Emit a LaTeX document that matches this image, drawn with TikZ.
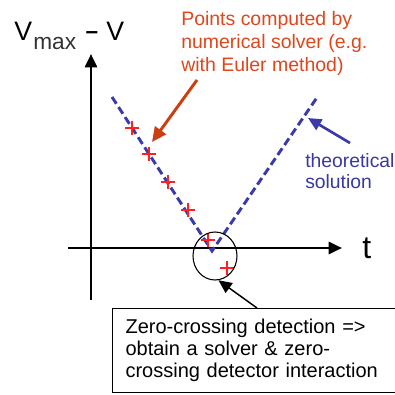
\documentclass[tikz,border=0pt]{standalone}
\usepackage{fontspec}
\usepackage{graphicx}
\setmainfont{Liberation Sans}
\usetikzlibrary{arrows.meta,shapes.geometric}
\definecolor{redtxt}{HTML}{E0461C}
\definecolor{redarr}{HTML}{CC3D10}
\definecolor{crossred}{HTML}{FF2020}
\definecolor{bluedash}{HTML}{3A3AAA}
\definecolor{bluetxt}{HTML}{3838A0}
\begin{document}
\begin{tikzpicture}[x=0.75pt,y=-0.75pt,
  axis/.style={line width=2pt,-{Triangle[length=10pt,width=9pt]}},
  theory/.style={bluedash,line width=2.2pt,dash pattern=on 6pt off 3pt},
  redarrow/.style={redarr,line width=2.2pt,-{Triangle[length=11pt,width=10pt]}},
  bluearrow/.style={bluedash,line width=2pt,-{Triangle[length=10pt,width=9pt]}},
  blackarrow/.style={black,line width=1.1pt,-{Triangle[length=10pt,width=9pt]}},
  lbl/.style={inner sep=0pt},
  pluscross/.pic={\draw[crossred,line width=1.1pt] (-7,0) -- (7,0) (0,-7) -- (0,7);}
]
\useasboundingbox (0,0) rectangle (394,395);

% axes
\coordinate (ybot) at (91,300);
\coordinate (ytop) at (91,54);
\coordinate (xleft) at (68,248);
\coordinate (xright) at (342,248);
\draw[axis] (ybot) -- (ytop);
\draw[axis] (xleft) -- (xright);

% axis labels
\node[lbl,anchor=base west,font=\fontsize{20}{24}\selectfont] (vlab) at (14,41) {V};
\node[lbl,anchor=base west,font=\fontsize{17}{20}\selectfont,text=black!80] (maxlab) at (33,50) {max};
\node[lbl,anchor=base west,font=\fontsize{20}{24}\selectfont] (dashlab) at (84,41) {\scalebox{1.7}[1.1]{-}};
\node[lbl,anchor=base west,font=\fontsize{20}{24}\selectfont] (v2lab) at (106,41) {V};
\node[lbl,anchor=base west,font=\fontsize{24}{28}\selectfont] (tlab) at (362,258) {t};

% theoretical solution
\coordinate (lstart) at (112,97);
\coordinate (vertex) at (212,251);
\coordinate (rend) at (318,96);
\draw[theory] (lstart) -- (vertex) -- (rend);

% numerical points
\coordinate (p1) at (132,128);
\coordinate (p2) at (149,154);
\coordinate (p3) at (168,182);
\coordinate (p4) at (188,210);
\coordinate (p5) at (208,240);
\coordinate (p6) at (227,268);
\foreach \p in {p1,p2,p3,p4,p5,p6} \pic at (\p) {pluscross};

% zero crossing ellipse
\node[draw,black,line width=0.8pt,ellipse,minimum width=33pt,minimum height=36pt,inner sep=0pt] (zc) at (215,256) {};

% red annotation
\node[lbl,anchor=north west,align=left,text=redtxt,font=\fontsize{14.6}{17.25}\selectfont] (redlab) at (181,11)
  {Points computed by\\numerical solver (e.g.\\with Euler method)};
\coordinate (redtail) at (197,80);
\coordinate (redtip) at (152,142);
\draw[redarrow] (redtail) -- (redtip);

% blue annotation
\node[lbl,anchor=north west,align=left,text=bluetxt,font=\fontsize{14.5}{15.75}\selectfont] (bluelab) at (305,153)
  {theoretical\\solution};
\coordinate (bluetail) at (350,143);
\coordinate (bluetip) at (308,118);
\draw[bluearrow] (bluetail) -- (bluetip);

% box
\node[draw,black,line width=0.8pt,anchor=north west,minimum width=216pt,minimum height=63pt,
  inner xsep=9.75pt,text width=196.5pt,align=left,font=\fontsize{15}{16.5}\selectfont] (box) at (112,308)
  {Zero-crossing detection =>\\obtain a solver \& zero-\\crossing detector interaction};
\coordinate (boxtail) at (257,308);
\draw[blackarrow] (boxtail) -- (zc.-82);
\end{tikzpicture}
\end{document}
